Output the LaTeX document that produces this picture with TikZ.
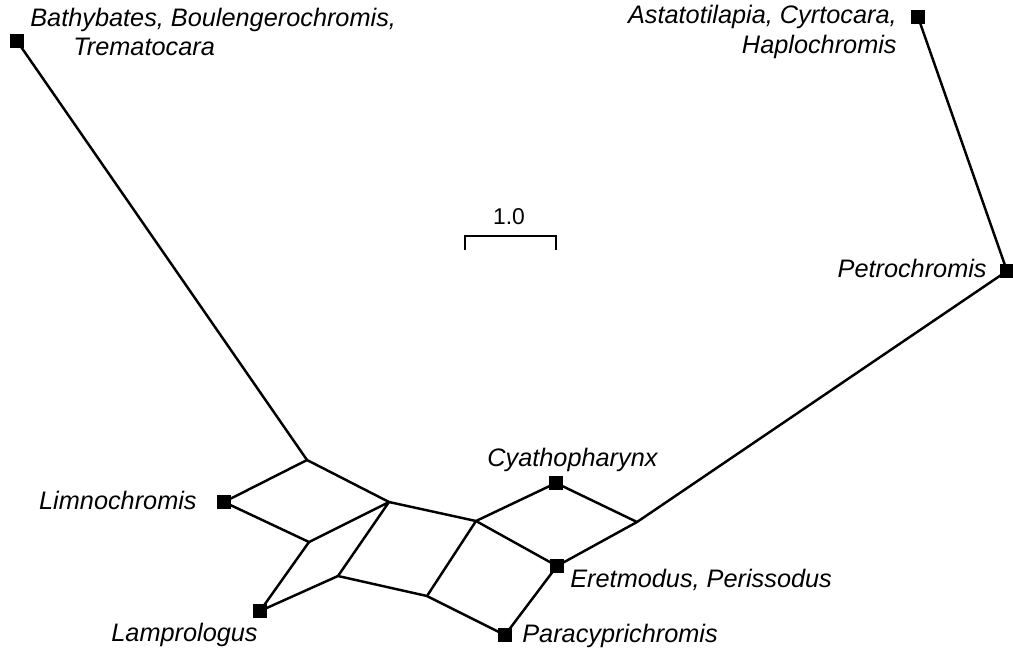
\documentclass[tikz,border=0pt]{standalone}
\usepackage{fontspec}
\setmainfont{Liberation Sans}
\usetikzlibrary{positioning}

\begin{document}
\begin{tikzpicture}[x=0.02cm, y=-0.02cm,
    taxon/.style={fill=black, minimum size=0.26cm, inner sep=0pt},
    split/.style={line width=1.4pt, line join=round},
    taxname/.style={font=\fontsize{14.4}{17}\selectfont\itshape, inner sep=0pt}]
    \useasboundingbox (0,0) rectangle (1013,653);
    % leaves
    \node[taxon] (bathy) at (17,41) {};
    \node[taxon] (astat) at (918,17) {};
    \node[taxon] (petro) at (1007,271) {};
    \node[taxon] (limno) at (224,502) {};
    \node[taxon] (lampro) at (260,611) {};
    \node[taxon] (cyatho) at (556,483) {};
    \node[taxon] (eretmo) at (557,566) {};
    \node[taxon] (paracy) at (505,635) {};
    % splits inside the network
    \coordinate (a) at (307,460);
    \coordinate (b) at (389,502);
    \coordinate (c) at (309,542);
    \coordinate (d) at (338,576);
    \coordinate (e) at (476,521);
    \coordinate (f) at (427,596);
    \coordinate (g) at (637,522);
    % edges
    \draw[split] (bathy.center) -- (a) -- (b) -- (e) -- (eretmo.center) -- (g) -- (petro.center) -- (astat.center);
    \draw[split] (a) -- (limno.center) -- (c) -- (b) -- (d) -- (f) -- (e);
    \draw[split] (c) -- (lampro.center) -- (d);
    \draw[split] (f) -- (paracy.center) -- (eretmo.center);
    \draw[split] (e) -- (cyatho.center) -- (g);
    % leaf squares on top of the edges
    \foreach \leaf in {bathy,astat,petro,limno,lampro,cyatho,eretmo,paracy}
        \fill (\leaf.south west) rectangle (\leaf.north east);
    % labels
    \node[taxname, align=left, anchor=west] (lbathy) at (30,32) {Bathybates, Boulengerochromis,\\\hspace*{0.86cm}Trematocara};
    \node[taxname, align=right, anchor=east] (lastat) at (897,32) {Astatotilapia, Cyrtocara,\\Haplochromis};
    \node[taxname, anchor=east] (lpetro) at (987,268) {Petrochromis};
    \node[taxname, anchor=east] (llimno) at (197,500) {Limnochromis};
    \node[taxname, anchor=east] (llampro) at (258,635) {Lamprologus};
    \node[taxname, anchor=west] (lcyatho) at (487,460) {Cyathopharynx};
    \node[taxname, anchor=west] (leretmo) at (570,580) {Eretmodus, Perissodus};
    \node[taxname, anchor=west] (lparacy) at (522,636) {Paracyprichromis};
    % scale bar
    \coordinate (barl) at (465,236);
    \coordinate (barr) at (556,236);
    \draw[line width=0.9pt] ([yshift=-8]barl) -- (barl) -- (barr) -- ([yshift=-8]barr);
    \node[font=\fontsize{13}{15}\selectfont, inner sep=0pt] (barlabel) at (509,217) {1.0};
\end{tikzpicture}
\end{document}
